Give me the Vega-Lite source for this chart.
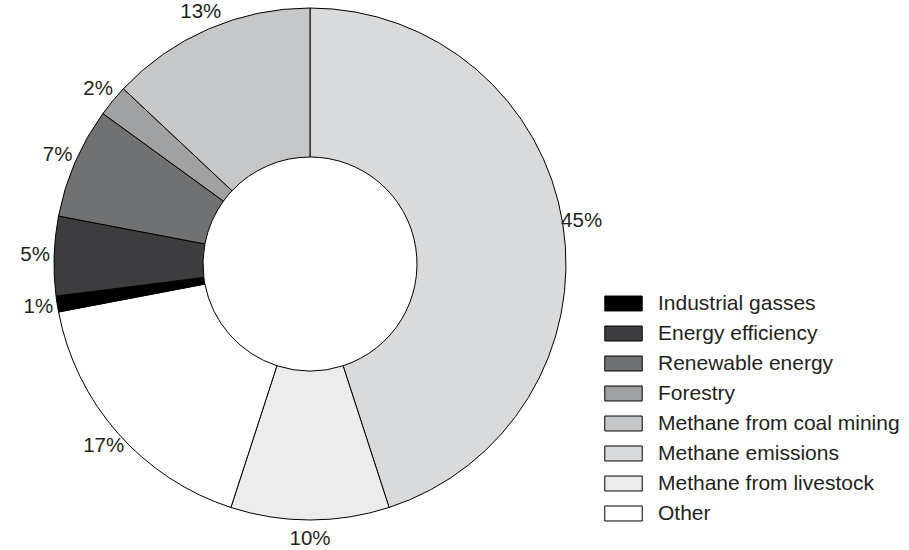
{
  "$schema": "https://vega.github.io/schema/vega-lite/v6.json",
  "width": 620,
  "height": 528,
  "padding": 0,
  "background": "white",
  "config": {"view": {"stroke": null}, "font": "Liberation Sans"},
  "data": {
    "values": [
      {"category": "Methane emissions", "value": 45, "label": "45%", "order": 1},
      {"category": "Methane from livestock", "value": 10, "label": "10%", "order": 2},
      {"category": "Other", "value": 17, "label": "17%", "order": 3},
      {"category": "Industrial gasses", "value": 1, "label": "1%", "order": 4},
      {"category": "Energy efficiency", "value": 5, "label": "5%", "order": 5},
      {"category": "Renewable energy", "value": 7, "label": "7%", "order": 6},
      {"category": "Forestry", "value": 2, "label": "2%", "order": 7},
      {"category": "Methane from coal mining", "value": 13, "label": "13%", "order": 8}
    ]
  },
  "encoding": {
    "theta": {"field": "value", "type": "quantitative", "stack": true},
    "order": {"field": "order", "type": "quantitative"}
  },
  "layer": [
    {
      "mark": {"type": "arc", "outerRadius": 256, "innerRadius": 107, "stroke": "#000000", "strokeWidth": 1},
      "encoding": {
        "color": {
          "field": "category",
          "type": "nominal",
          "scale": {
            "domain": ["Industrial gasses", "Energy efficiency", "Renewable energy", "Forestry", "Methane from coal mining", "Methane emissions", "Methane from livestock", "Other"],
            "range": ["#000000", "#3d3d3f", "#707173", "#a0a1a3", "#c6c7c9", "#d9dadc", "#ebeceb", "#ffffff"]
          },
          "legend": {
            "title": null,
            "orient": "none",
            "legendX": 604,
            "legendY": 284,
            "symbolType": "M-1,-0.4H1V0.4H-1Z",
            "symbolSize": 1400,
            "symbolStrokeColor": "#000000",
            "symbolStrokeWidth": 1,
            "labelFontSize": 21,
            "labelColor": "#231f20",
            "labelFont": "Liberation Sans",
            "labelOffset": 15,
            "rowPadding": -5,
            "labelLimit": 400
          }
        }
      }
    },
    {
      "mark": {"type": "text", "radius": 275, "fontSize": 20.5, "color": "#231f20", "font": "Liberation Sans"},
      "encoding": {
        "text": {"field": "label", "type": "nominal"}
      }
    }
  ]
}
